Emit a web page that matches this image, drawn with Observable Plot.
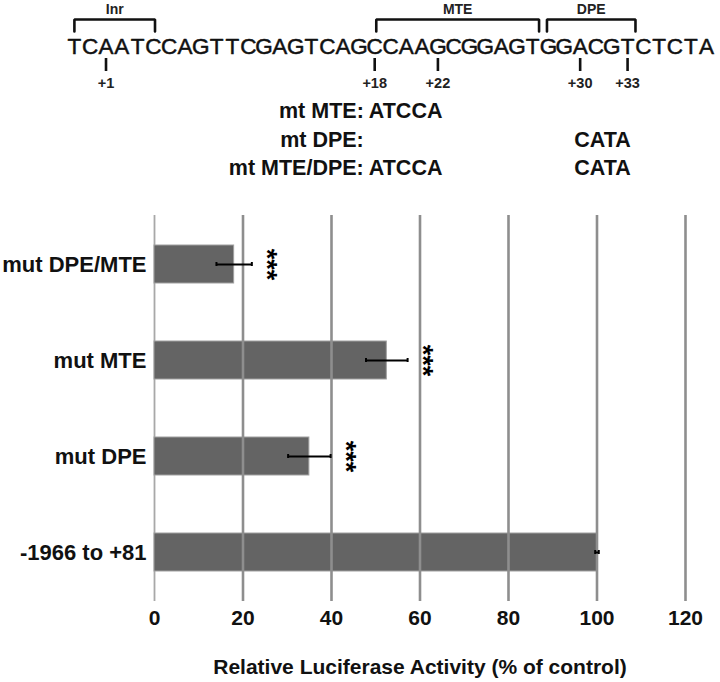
<!DOCTYPE html>
<html>
<head>
<meta charset="utf-8">
<script src="https://cdn.jsdelivr.net/npm/d3@7"></script>
<script src="https://cdn.jsdelivr.net/npm/@observablehq/plot@0.6"></script>
<style>
  html, body { margin: 0; padding: 0; background: #fff; }
  #chart { width: 720px; height: 682px; }
  #chart svg { display: block; }
</style>
</head>
<body>
<div id="chart"></div>
<script>
// ---------- data ----------
const sequence = "TCAATCCAGTTCGAGTCAGCCAAGCGGAGTGGACGTCTCTA".split("");
const elementNames = ["Inr", "MTE", "DPE"];
const elementStart = [0.5, 19.6, 30.4];   // nucleotide index units
const elementEnd = [5.6, 29.9, 36.0];
const positionLabels = ["+1", "+18", "+22", "+30", "+33"];
const positionLetter = [3, 20, 24, 33, 36]; // 1-based letter under the tick
const mutantNames = ["mt MTE:", "mt DPE:", "mt MTE/DPE:"];
const mutantRow = ["mt MTE:", "mt DPE:", "mt MTE/DPE:", "mt MTE/DPE:"];
const mutantFirstLetter = [20, 33, 20, 33];
const mutantText = ["ATCCA", "CATA", "ATCCA", "CATA"];

const categories = ["mut DPE/MTE", "mut MTE", "mut DPE", "-1966 to +81"];
const activity = [18, 52.5, 35, 100];
const errors = [4, 4.7, 4.8, 0.4];
const significance = ["***", "***", "***", ""];
const xTicks = [0, 20, 40, 60, 80, 100, 120];
const xTitle = "Relative Luciferase Activity (% of control)";

// ---------- layout (header rows, px) ----------
const HEADER_H = 190;
const rowY = {name: 9, bracketTop: 19, bracketFoot: 31, seq: 46, tickTop: 58, tickBottom: 71, pos: 83};
const mutY = {"mt MTE:": 111, "mt DPE:": 140, "mt MTE/DPE:": 168};
const FONT = "Liberation Sans, Arial, Helvetica, sans-serif";

// ---------- header ----------
const letters = sequence.map((s, i) => ({s, x: i + 0.5}));
const bracketPts = [];
elementNames.forEach((n, i) => {
  bracketPts.push({n, x: elementStart[i], y: rowY.bracketFoot});
  bracketPts.push({n, x: elementStart[i], y: rowY.bracketTop});
  bracketPts.push({n, x: elementEnd[i], y: rowY.bracketTop});
  bracketPts.push({n, x: elementEnd[i], y: rowY.bracketFoot});
});
const elements = elementNames.map((n, i) => ({n, x: (elementStart[i] + elementEnd[i]) / 2}));
const positions = positionLabels.map((l, i) => ({l, x: positionLetter[i] - 0.5}));
const mutants = mutantText.map((t, i) => ({t, row: mutantRow[i], x: mutantFirstLetter[i] - 1}));

const header = Plot.plot({
  width: 720, height: HEADER_H,
  marginLeft: 66, marginRight: 6, marginTop: 0, marginBottom: 0,
  style: {fontFamily: FONT, background: "white", overflow: "visible"},
  x: {domain: [0, sequence.length], axis: null},
  y: {domain: [0, HEADER_H], range: [0, HEADER_H], axis: null},
  marks: [
    Plot.line(bracketPts, {x: "x", y: "y", z: "n", stroke: "#111", strokeWidth: 2.6, strokeLinejoin: "miter"}),
    Plot.text(elements, {x: "x", y: () => rowY.name, text: "n", fontSize: 14, fontWeight: "bold", fill: "#222"}),
    Plot.text(letters, {x: "x", y: () => rowY.seq, text: "s", fontSize: 22.5, fill: "#111", stroke: "#111", strokeWidth: 0.5}),
    Plot.ruleX(positions, {x: "x", y1: () => rowY.tickTop, y2: () => rowY.tickBottom, stroke: "#111", strokeWidth: 2.6}),
    Plot.text(positions, {x: "x", y: () => rowY.pos, text: "l", fontSize: 14.5, fontWeight: "bold", fill: "#222"}),
    Plot.text(mutantNames, {x: () => 19, y: (d) => mutY[d], text: (d) => d, textAnchor: "end", dx: -3, fontSize: 21.5, fontWeight: "bold", fill: "#111"}),
    Plot.text(mutants, {x: "x", y: (d) => mutY[d.row], text: "t", textAnchor: "start", dx: 2, fontSize: 21.5, fontWeight: "bold", fill: "#111"})
  ]
});

// ---------- bar chart ----------
const rows = categories.map((c, i) => ({label: c, value: activity[i], err: errors[i], sig: significance[i]}));

const bars = Plot.plot({
  width: 720, height: 682 - HEADER_H,
  marginTop: 25, marginBottom: 81, marginLeft: 154, marginRight: 35,
  style: {fontFamily: FONT, background: "white", overflow: "visible"},
  x: {domain: [0, 120]},
  y: {domain: categories, paddingInner: 0.6, paddingOuter: 0.3},
  marks: [
    Plot.ruleX([0], {stroke: "#a8a8a8", strokeWidth: 1.8}),
    Plot.barX(rows, {x: "value", y: "label", fill: "#646464", stroke: "#a0a0a0", strokeWidth: 1}),
    Plot.ruleX(xTicks.slice(1), {stroke: "#8e8e8e", strokeWidth: 2.6}),
    Plot.ruleY(rows, {y: "label", x1: (d) => d.value - d.err, x2: (d) => d.value + d.err, stroke: "#000", strokeWidth: 2}),
    Plot.tickX(rows, {x: (d) => d.value - d.err, y: "label", stroke: "#000", strokeWidth: 2, insetTop: 17, insetBottom: 17}),
    Plot.tickX(rows, {x: (d) => d.value + d.err, y: "label", stroke: "#000", strokeWidth: 2, insetTop: 17, insetBottom: 17}),
    Plot.text(rows.filter((d) => d.sig), {x: (d) => d.value + d.err, y: "label", text: "sig", rotate: 90, dx: 15, fontSize: 27, fontWeight: "bold", fill: "#000"}),
    Plot.axisY({tickSize: 0, tickPadding: 8, fontSize: 22, fontWeight: "bold", fill: "#111", label: null}),
    Plot.axisX({ticks: xTicks, tickSize: 0, tickPadding: 9, line: true, stroke: "#8e8e8e", strokeWidth: 2.6,
      fontSize: 21, fontWeight: "bold", fill: "#111", label: xTitle, labelAnchor: "center", labelArrow: "none", labelOffset: 72})
  ]
});

const root = document.getElementById("chart");
root.append(header, bars);
</script>
</body>
</html>
